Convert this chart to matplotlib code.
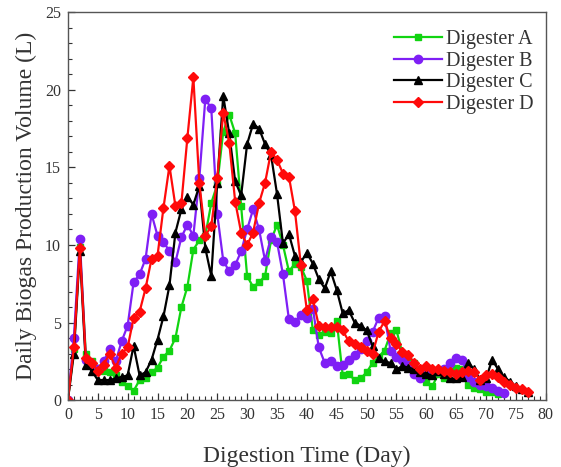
import matplotlib
matplotlib.use("Agg")
import matplotlib.pyplot as plt
from matplotlib.ticker import MultipleLocator

# Daily biogas volume (L) for each digester, one value per day starting at day 0
digester_a = [0, 3.3, 9.9, 3.0, 2.5, 2.1, 1.9, 1.8, 1.6, 1.2, 0.9, 0.6, 1.3, 1.45, 1.8,
              2.1, 2.8, 3.2, 4.0, 6.0, 7.3, 9.7, 10.3, 10.6, 12.7, 13.9, 17.3, 18.4, 17.2,
              12.5, 8.0, 7.3, 7.6, 8.0, 10.3, 11.3, 10.0, 8.3, 8.8, 8.6, 7.7, 4.5, 4.2,
              4.4, 4.3, 5.1, 1.6, 1.7, 1.3, 1.4, 1.8, 2.4, 2.8, 3.2, 4.3, 4.5, 3.0, 2.8,
              2.4, 1.8, 1.2, 0.9, 1.7, 1.4, 1.9, 2.1, 2.0, 1.0, 0.8, 0.7, 0.55, 0.5, 0.4]
digester_b = [0, 4.0, 10.4, 2.6, 2.3, 2.0, 2.5, 3.3, 2.5, 3.8, 4.8, 7.6, 8.1, 9.1, 12.0,
              10.6, 10.2, 9.6, 8.9, 10.5, 11.3, 10.6, 14.3, 19.4, 18.8, 12.0, 9.0, 8.3,
              8.7, 9.6, 11.0, 12.3, 11.0, 9.0, 10.5, 10.2, 8.1, 5.2, 5.05, 5.5, 5.3, 5.9,
              3.4, 2.4, 2.5, 2.2, 2.3, 2.6, 2.9, 3.3, 3.8, 4.4, 5.3, 5.4, 3.2, 2.8, 2.6,
              2.3, 1.7, 1.4, 1.8, 1.9, 1.9, 2.0, 2.4, 2.7, 2.6, 1.5, 1.2, 1.0, 0.9, 0.8,
              0.6, 0.45]
digester_c = [0, 3.0, 9.6, 2.3, 1.9, 1.3, 1.3, 1.3, 1.4, 1.5, 1.6, 3.5, 1.6, 1.8, 2.6,
              3.9, 5.4, 7.4, 10.8, 12.3, 13.1, 12.6, 13.8, 9.8, 8.0, 14.0, 19.6, 17.2,
              14.1, 13.2, 16.5, 17.8, 17.5, 16.5, 15.8, 13.3, 10.1, 10.7, 9.3, 8.9, 9.5,
              8.8, 7.8, 7.2, 8.3, 7.1, 5.6, 5.8, 5.0, 4.8, 4.5, 3.5, 2.7, 2.5, 2.4, 2.0,
              2.2, 2.1, 2.0, 1.8, 1.7, 1.6, 1.9, 1.7, 1.4, 1.4, 1.5, 2.4, 2.0, 1.3, 1.4,
              2.6, 2.0, 1.5, 1.2, 0.9, 0.7, 0.5]
digester_d = [0, 3.4, 9.8, 2.7, 2.4, 1.9, 2.3, 3.0, 2.1, 3.0, 3.4, 5.3, 5.7, 7.2, 9.1,
              9.3, 12.4, 15.1, 12.5, 12.7, 16.9, 20.8, 14.0, 10.6, 11.2, 14.3, 18.5, 16.6,
              12.8, 10.8, 10.0, 10.8, 12.7, 14.0, 16.0, 15.5, 14.6, 14.4, 12.2, 8.7, 5.8,
              6.5, 4.8, 4.7, 4.7, 4.7, 4.5, 3.8, 3.6, 3.4, 3.2, 3.0, 4.4, 5.1, 4.0, 3.6,
              3.1, 2.9, 2.4, 2.0, 2.2, 2.0, 2.0, 1.9, 1.8, 1.7, 1.8, 1.9, 1.8, 1.3, 1.6,
              1.7, 1.5, 1.2, 1.0, 0.8, 0.7, 0.55]

series_labels = ["Digester A", "Digester B", "Digester C", "Digester D"]
x_ticks = list(range(0, 81, 5))
y_ticks = list(range(0, 26, 5))

plt.rcParams["font.family"] = ["Liberation Serif", "DejaVu Serif"]

fig = plt.figure(figsize=(5.61, 4.67), dpi=100)
ax = fig.add_axes([0.121, 0.143, 0.852, 0.831])

styles = [
    dict(color="#11d411", marker="s", markersize=5),
    dict(color="#7f1ff5", marker="o", markersize=6),
    dict(color="#000000", marker="^", markersize=6),
    dict(color="#ff0a0a", marker="D", markersize=5),
]
for values, label, st in zip([digester_a, digester_b, digester_c, digester_d],
                             series_labels, styles):
    days = list(range(len(values)))
    ax.plot(days, values, label=label, linewidth=1.6, **st)

ax.set_xlim(0, 80)
ax.set_ylim(0, 25)
ax.set_xticks(x_ticks)
ax.set_yticks(y_ticks)
ax.xaxis.set_minor_locator(MultipleLocator(1))
ax.yaxis.set_minor_locator(MultipleLocator(1))
ax.tick_params(which="both", direction="in", top=False, right=False,
               labelsize=11.5, colors="#333333", pad=5)
ax.tick_params(which="major", length=5, width=0.9)
ax.tick_params(which="minor", length=3, width=0.8)
for sp in ax.spines.values():
    sp.set_color("#555555")
    sp.set_linewidth(1.0)

ax.set_xlabel("Digestion Time (Day)", fontsize=17, color="#333333", labelpad=16)
ax.set_ylabel("Daily Biogas Production Volume (L)", fontsize=17, color="#333333",
              labelpad=6)

leg = ax.legend(loc="upper right", bbox_to_anchor=(1.0, 0.985), frameon=False,
                fontsize=14.5, handlelength=2.4, borderaxespad=0.2,
                labelspacing=0.12, handletextpad=0.2)
for t in leg.get_texts():
    t.set_color("#333333")

fig.savefig("out.png", dpi=100)
